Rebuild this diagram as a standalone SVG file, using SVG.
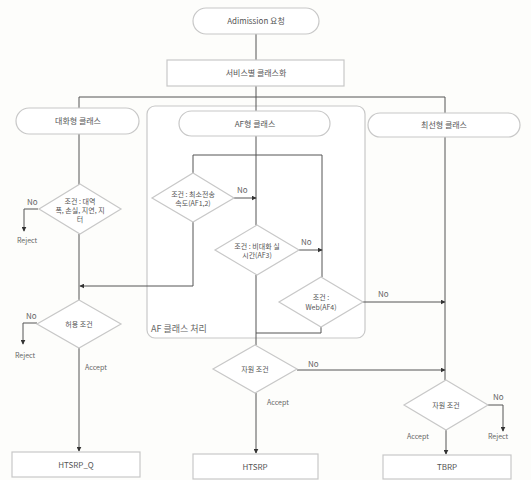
<svg xmlns="http://www.w3.org/2000/svg" width="531" height="480" viewBox="0 0 531 480">
<defs>
<marker id="ah" viewBox="0 0 8 8" refX="7" refY="4" markerWidth="5" markerHeight="5" orient="auto">
<path d="M0,0 L8,4 L0,8 z" fill="#333"/>
</marker>
<style>
.n{fill:#fff;stroke:#c8c8c8;stroke-width:1.2}
.c{fill:none;stroke:#555;stroke-width:1}
.t{font-family:"Noto Sans CJK KR","Noto Sans",sans-serif;font-size:8px;fill:#555;text-anchor:middle}
.l{font-family:"Noto Sans CJK KR","Noto Sans",sans-serif;font-size:8px;fill:#666}
.s{font-size:7px}
</style>
</defs>
<rect width="531" height="480" fill="#fdfdfb"/>
<g id="af-container">
<rect x="147" y="106" width="218" height="232" rx="8" class="n"/>
<text x="151" y="332" class="l" style="font-size:9px">AF 클래스 처리</text>
</g>
<g id="connectors">
<path class="c" d="M256,34 V60"/>
<path class="c" d="M256,86 V111"/>
<path class="c" d="M79,108 V97 H445 V113"/>
<path class="c" d="M79,134 V185"/>
<path class="c" d="M38,209 H24 V231" marker-end="url(#ah)"/>
<path class="c" d="M79,234 V300"/>
<path class="c" d="M193,222 V286 H80" marker-end="url(#ah)"/>
<path class="c" d="M37,323 H23 V344" marker-end="url(#ah)"/>
<path class="c" d="M79,348 V451" marker-end="url(#ah)"/>
<path class="c" d="M193,173 V155 H322 V277"/>
<path class="c" d="M256,136 V225"/>
<path class="c" d="M234,198 H256" marker-end="url(#ah)"/>
<path class="c" d="M299,250 H322" marker-end="url(#ah)"/>
<path class="c" d="M363,302 H445" marker-end="url(#ah)"/>
<path class="c" d="M256,275 V345"/>
<path class="c" d="M321,327 V333 H256"/>
<path class="c" d="M297,370 H445" marker-end="url(#ah)"/>
<path class="c" d="M256,393 V453" marker-end="url(#ah)"/>
<path class="c" d="M445,137 V380"/>
<path class="c" d="M488,405 H503 V431" marker-end="url(#ah)"/>
<path class="c" d="M446,430 V454" marker-end="url(#ah)"/>
<text x="27" y="205" class="l">No</text>
<text x="17" y="243" class="l s">Reject</text>
<text x="237" y="193" class="l">No</text>
<text x="301" y="245" class="l">No</text>
<text x="378" y="297" class="l">No</text>
<text x="26" y="319" class="l">No</text>
<text x="15" y="358" class="l s">Reject</text>
<text x="85" y="370" class="l s">Accept</text>
<text x="308" y="367" class="l">No</text>
<text x="267" y="405" class="l s">Accept</text>
<text x="493" y="400" class="l">No</text>
<text x="488" y="439" class="l s">Reject</text>
<text x="407" y="439" class="l s">Accept</text>
</g>
<g id="admission">
<rect x="193" y="8" width="126" height="26" rx="13" class="n"/>
<text x="256" y="24" class="t">Adimission 요청</text>
</g>
<g id="classify">
<rect x="167" y="60" width="177" height="26" class="n"/>
<text x="256" y="76" class="t">서비스별 클래스화</text>
</g>
<g id="class-conv">
<rect x="16" y="108" width="123" height="26" rx="13" class="n"/>
<text x="78" y="124" class="t">대화형 클래스</text>
</g>
<g id="class-af">
<rect x="179" y="111" width="151" height="25" rx="12.5" class="n"/>
<text x="255" y="127" class="t">AF형 클래스</text>
</g>
<g id="class-be">
<rect x="368" y="113" width="152" height="24" rx="12" class="n"/>
<text x="444" y="128" class="t">최선형 클래스</text>
</g>
<g id="cond-conv">
<path d="M80,184 L121,209 L80,234 L39,209 z" class="n"/>
<text x="80" y="204" class="t s">조건 : 대역</text>
<text x="80" y="213" class="t s">폭, 손실, 지연, 지</text>
<text x="80" y="222" class="t s">터</text>
</g>
<g id="cond-af12">
<path d="M193,173 L234,198 L193,222 L152,198 z" class="n"/>
<text x="193" y="197" class="t s">조건 : 최소전송</text>
<text x="193" y="206" class="t s">속도(AF1,2)</text>
</g>
<g id="cond-af3">
<path d="M257,225 L299,250 L257,275 L215,250 z" class="n"/>
<text x="257" y="249" class="t s">조건 : 비대화 실</text>
<text x="257" y="258" class="t s">시간(AF3)</text>
</g>
<g id="cond-af4">
<path d="M321,277 L363,302 L321,327 L279,302 z" class="n"/>
<text x="321" y="300" class="t s">조건 :</text>
<text x="321" y="310" class="t s">Web(AF4)</text>
</g>
<g id="allow-conv">
<path d="M79,300 L121,324 L79,348 L37,324 z" class="n"/>
<text x="79" y="327" class="t s">허용 조건</text>
</g>
<g id="res-af">
<path d="M255,345 L297,369 L255,393 L213,369 z" class="n"/>
<text x="255" y="372" class="t s">자원 조건</text>
</g>
<g id="res-be">
<path d="M446,380 L488,405 L446,430 L404,405 z" class="n"/>
<text x="446" y="408" class="t s">자원 조건</text>
</g>
<g id="htsrp-q">
<rect x="12" y="452" width="128" height="25" class="n"/>
<text x="76" y="468" class="t">HTSRP_Q</text>
</g>
<g id="htsrp">
<rect x="193" y="454" width="125" height="25" class="n"/>
<text x="255" y="470" class="t">HTSRP</text>
</g>
<g id="tbrp">
<rect x="383" y="455" width="128" height="24" class="n"/>
<text x="447" y="470" class="t">TBRP</text>
</g>
</svg>
